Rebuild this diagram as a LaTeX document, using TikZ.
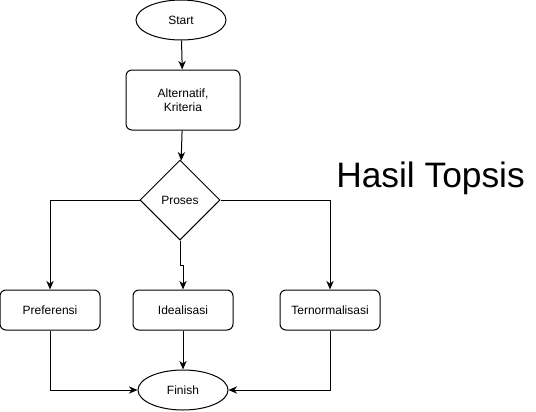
\documentclass[tikz,border=0pt]{standalone}
\usepackage{fontspec}
\setmainfont{Liberation Sans}
\usetikzlibrary{shapes.geometric,arrows.meta}

\begin{document}
\begin{tikzpicture}[x=0.75pt,y=0.75pt,yscale=-1,xscale=1,
  proc/.style={draw,rounded corners=4.5pt,line width=0.75pt,font=\fontsize{9}{10.5}\selectfont,align=center,inner sep=0pt},
  term/.style={draw,ellipse,line width=0.75pt,font=\fontsize{9}{10.5}\selectfont,minimum width=67.5pt,minimum height=30pt,inner sep=0pt},
  flow/.style={line width=0.75pt,-{Stealth[length=6.5pt,width=5.5pt]}}]
\useasboundingbox (0,0) rectangle (536,411);

%Shape: Ellipse
\node (start) [term] at (181,20) {Start};
%Rounded Rect
\node (input) [proc,minimum width=85.5pt,minimum height=45pt] at (183,100) {Alternatif,\\Kriteria};
%Flowchart: Decision
\node (proses) [draw,diamond,aspect=1,line width=0.75pt,minimum width=60pt,minimum height=60pt,inner sep=0pt,font=\fontsize{9}{10.5}\selectfont] at (180,200) {Proses};
%Rounded Rect
\node (pref) [proc,minimum width=75pt,minimum height=30pt] at (50,310) {Preferensi};
%Rounded Rect
\node (ideal) [proc,minimum width=75pt,minimum height=30pt] at (183,310) {Idealisasi};
%Rounded Rect
\node (norm) [proc,minimum width=75pt,minimum height=30pt] at (330,310) {Ternormalisasi};
%Shape: Ellipse
\node (finish) [term] at (183,390) {Finish};

% Text Node
\node (judul) [anchor=base west,inner sep=0pt,font=\fontsize{26.5}{31}\selectfont] at (336,187) {Hasil Topsis};

%Connectors
\draw [flow] (start) -- (input);
\draw [flow] (input) -- (proses);
\draw [flow] (proses.west) -| (pref.north);
\draw [flow] (proses.south) -- ++(0,25) -| (ideal.north);
\draw [flow] (proses.east) -| (norm.north);
\draw [flow] (pref.south) |- (finish.west);
\draw [flow] (ideal) -- (finish);
\draw [flow] (norm.south) |- (finish.east);

\end{tikzpicture}
\end{document}
